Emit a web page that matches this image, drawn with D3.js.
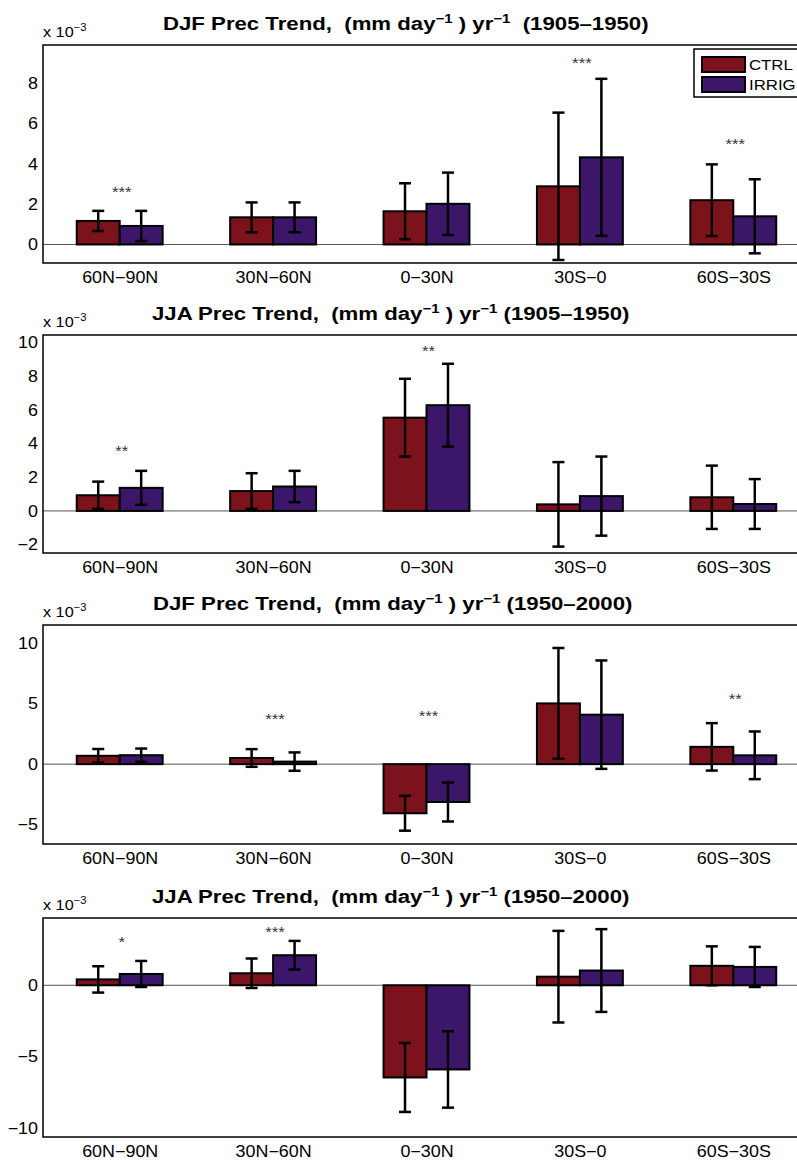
<!DOCTYPE html>
<html>
<head>
<meta charset="utf-8">
<script src="https://cdn.jsdelivr.net/npm/d3@7"></script>
<style>
body { margin: 0; background: #fff; }
svg { display: block; font-family: "Liberation Sans", Arial, Helvetica, sans-serif; }
</style>
</head>
<body>
<div id="chart"></div>
<script>

var regions = ["60N\u221290N", "30N\u221260N", "0\u221230N", "30S\u22120", "60S\u221230S"]
var series = ["CTRL", "IRRIG"]
var seriesColors = ["#7c121c", "#3c1668"]

// DJF 1905-1950
var djf1Ctrl = [1.17, 1.35, 1.65, 2.89, 2.20]
var djf1CtrlErr = [0.50, 0.74, 1.39, 3.66, 1.78]
var djf1Irrig = [0.92, 1.35, 2.02, 4.33, 1.40]
var djf1IrrigErr = [0.75, 0.74, 1.55, 3.90, 1.84]
var djf1Stars = ["***", "", "", "***", "***"]
var djf1StarPos = [2.7, 0, 0, 9.1, 5.07]
var djf1Ticks = [0, 2, 4, 6, 8]

// JJA 1905-1950
var jja1Ctrl = [0.93, 1.18, 5.54, 0.39, 0.81]
var jja1CtrlErr = [0.81, 1.06, 2.31, 2.51, 1.88]
var jja1Irrig = [1.37, 1.45, 6.28, 0.88, 0.41]
var jja1IrrigErr = [1.01, 0.93, 2.46, 2.35, 1.48]
var jja1Stars = ["**", "", "**", "", ""]
var jja1StarPos = [3.66, 0, 9.6, 0, 0]
var jja1Ticks = [-2, 0, 2, 4, 6, 8, 10]

// DJF 1950-2000
var djf2Ctrl = [0.69, 0.51, -4.06, 5.02, 1.43]
var djf2CtrlErr = [0.56, 0.73, 1.44, 4.58, 1.96]
var djf2Irrig = [0.74, 0.21, -3.13, 4.09, 0.73]
var djf2IrrigErr = [0.55, 0.76, 1.61, 4.48, 1.97]
var djf2Stars = ["", "***", "***", "", "**"]
var djf2StarPos = [0, 3.93, 4.13, 0, 5.59]
var djf2Ticks = [-5, 0, 5, 10]

// JJA 1950-2000
var jja2Ctrl = [0.41, 0.84, -6.44, 0.60, 1.36]
var jja2CtrlErr = [0.92, 1.03, 2.41, 3.20, 1.36]
var jja2Irrig = [0.79, 2.10, -5.88, 1.03, 1.28]
var jja2IrrigErr = [0.91, 1.00, 2.67, 2.89, 1.40]
var jja2Stars = ["*", "***", "", "", ""]
var jja2StarPos = [3.14, 3.84, 0, 0, 0]
var jja2Ticks = [-10, -5, 0]

var panels = [
    {season: "DJF", period: "1905\u20131950", gap: "  ", ctrl: djf1Ctrl, ctrlErr: djf1CtrlErr, irrig: djf1Irrig, irrigErr: djf1IrrigErr,
     stars: djf1Stars, starPos: djf1StarPos, ticks: djf1Ticks, domain: [-0.92, 9.91], top: 45, bottom: 263, titleX: 163, legend: true},
    {season: "JJA", period: "1905\u20131950", gap: " ", ctrl: jja1Ctrl, ctrlErr: jja1CtrlErr, irrig: jja1Irrig, irrigErr: jja1IrrigErr,
     stars: jja1Stars, starPos: jja1StarPos, ticks: jja1Ticks, domain: [-2.5, 10.45], top: 335, bottom: 553, titleX: 152},
    {season: "DJF", period: "1950\u20132000", gap: " ", ctrl: djf2Ctrl, ctrlErr: djf2CtrlErr, irrig: djf2Irrig, irrigErr: djf2IrrigErr,
     stars: djf2Stars, starPos: djf2StarPos, ticks: djf2Ticks, domain: [-6.6, 11.5], top: 625, bottom: 844, titleX: 153},
    {season: "JJA", period: "1950\u20132000", gap: " ", ctrl: jja2Ctrl, ctrlErr: jja2CtrlErr, irrig: jja2Irrig, irrigErr: jja2IrrigErr,
     stars: jja2Stars, starPos: jja2StarPos, ticks: jja2Ticks, domain: [-10.6, 4.7], top: 918, bottom: 1137, titleX: 152}
]

var width = 797
var height = 1161

// the source figure is a little wider than tall, so text is stretched sideways
var sx = 1.12
var titleSx = 1.2

var svg = d3.select("#chart").append("svg")
    .attr("width", width)
    .attr("height", height)

var x = d3.scaleLinear()
    .domain([0.5, 5.5])
    .range([43, 810])

var barW = 0.28
var capW = 6

function minus(d) {
    return d < 0 ? "\u2212" + Math.abs(d) : String(d)
}

panels.forEach(function(p) {
    var y = d3.scaleLinear()
        .domain(p.domain)
        .range([p.bottom, p.top])

    var g = svg.append("g")

    // zero line
    g.append("line")
        .attr("x1", x(0.5)).attr("x2", x(5.5))
        .attr("y1", y(0)).attr("y2", y(0))
        .attr("stroke", "#555")
        .attr("stroke-width", 1)

    var rows = []
    regions.forEach(function(r, i) {
        rows.push({k: i + 1, s: 0, v: p.ctrl[i], e: p.ctrlErr[i]})
        rows.push({k: i + 1, s: 1, v: p.irrig[i], e: p.irrigErr[i]})
    })

    g.selectAll("rect.bar")
        .data(rows)
        .enter().append("rect")
        .attr("class", "bar")
        .attr("x", function(d) { return x(d.k - barW + d.s * barW) })
        .attr("width", function(d) { return x(d.k + barW) - x(d.k) })
        .attr("y", function(d) { return y(Math.max(0, d.v)) })
        .attr("height", function(d) { return Math.abs(y(d.v) - y(0)) })
        .attr("fill", function(d) { return seriesColors[d.s] })
        .attr("stroke", "#000")
        .attr("stroke-width", 2)

    var eb = g.selectAll("g.err")
        .data(rows)
        .enter().append("g")
        .attr("class", "err")
        .attr("stroke", "#000")
        .attr("stroke-width", 2.5)

    function cx(d) { return x(d.k - barW / 2 + d.s * barW) }

    eb.append("line")
        .attr("x1", cx).attr("x2", cx)
        .attr("y1", function(d) { return y(d.v - d.e) })
        .attr("y2", function(d) { return y(d.v + d.e) })
    eb.append("line")
        .attr("x1", function(d) { return cx(d) - capW }).attr("x2", function(d) { return cx(d) + capW })
        .attr("y1", function(d) { return y(d.v + d.e) })
        .attr("y2", function(d) { return y(d.v + d.e) })
    eb.append("line")
        .attr("x1", function(d) { return cx(d) - capW }).attr("x2", function(d) { return cx(d) + capW })
        .attr("y1", function(d) { return y(d.v - d.e) })
        .attr("y2", function(d) { return y(d.v - d.e) })

    // significance stars
    g.selectAll("text.star")
        .data(regions.map(function(r, i) { return {k: i + 1, t: p.stars[i], v: p.starPos[i]} }).filter(function(d) { return d.t }))
        .enter().append("text")
        .attr("class", "star")
        .attr("transform", function(d) { return "translate(" + (x(d.k) + 2) + "," + (y(d.v) + 7) + ") scale(" + sx + ",1)" })
        .attr("text-anchor", "middle")
        .attr("font-size", 15)
        .attr("fill", "#333")
        .text(function(d) { return d.t })

    // axes
    var yAxis = g.append("g")
        .attr("transform", "translate(" + x(0.5) + ",0)")
        .call(d3.axisLeft(y).tickValues(p.ticks).tickSize(0).tickPadding(5).tickFormat(minus))
    yAxis.select(".domain").remove()
    yAxis.selectAll("text")
        .attr("font-size", 16).attr("font-family", null).attr("fill", "#000")
        .attr("x", -5 / sx)
        .attr("transform", "scale(" + sx + ",1)")

    var xAxis = g.append("g")
        .attr("transform", "translate(0," + p.bottom + ")")
        .call(d3.axisBottom(x).tickValues([1, 2, 3, 4, 5]).tickSize(0).tickPadding(9)
            .tickFormat(function(k) { return regions[k - 1] }))
    xAxis.select(".domain").remove()
    xAxis.selectAll("text")
        .attr("font-size", 16).attr("font-family", null).attr("fill", "#000")
        .attr("transform", "scale(" + sx + ",1)")

    g.append("rect")
        .attr("x", x(0.5)).attr("y", p.top)
        .attr("width", x(5.5) - x(0.5))
        .attr("height", p.bottom - p.top)
        .attr("fill", "none")
        .attr("stroke", "#000")
        .attr("stroke-width", 1.5)

    // exponent label
    var ex = g.append("text")
        .attr("transform", "translate(" + x(0.5) + "," + (p.top - 8) + ") scale(" + sx + ",1)")
        .attr("font-size", 14.5)
    ex.append("tspan").text("x 10")
    ex.append("tspan").attr("dy", -6).attr("font-size", 10).text("\u22123")

    // title
    var t = g.append("text")
        .attr("transform", "translate(" + p.titleX + "," + (p.top - 15) + ") scale(" + titleSx + ",1)")
        .attr("font-size", 18.5)
        .attr("font-weight", "bold")
        .style("white-space", "pre")
    t.append("tspan").text(p.season + " Prec Trend,  (mm day")
    t.append("tspan").attr("dy", -7).attr("font-size", 12.5).text("\u22121")
    t.append("tspan").attr("dy", 7).text(" ) yr")
    t.append("tspan").attr("dy", -7).attr("font-size", 12.5).text("\u22121")
    t.append("tspan").attr("dy", 7).text(p.gap + "(" + p.period + ")")

    if (p.legend) {
        var lg = g.append("g").attr("transform", "translate(694,49)")
        lg.append("rect")
            .attr("width", 120).attr("height", 48)
            .attr("fill", "#fff")
            .attr("stroke", "#000")
            .attr("stroke-width", 1.5)
        series.forEach(function(s, i) {
            lg.append("rect")
                .attr("x", 8).attr("y", 8 + i * 20)
                .attr("width", 43).attr("height", 15)
                .attr("fill", seriesColors[i])
                .attr("stroke", "#000")
                .attr("stroke-width", 2)
            lg.append("text")
                .attr("transform", "translate(55," + (15.5 + i * 20) + ") scale(" + sx + ",1)")
                .attr("dy", "0.35em")
                .attr("font-size", 15)
                .text(s)
        })
    }
})

</script>
</body>
</html>
